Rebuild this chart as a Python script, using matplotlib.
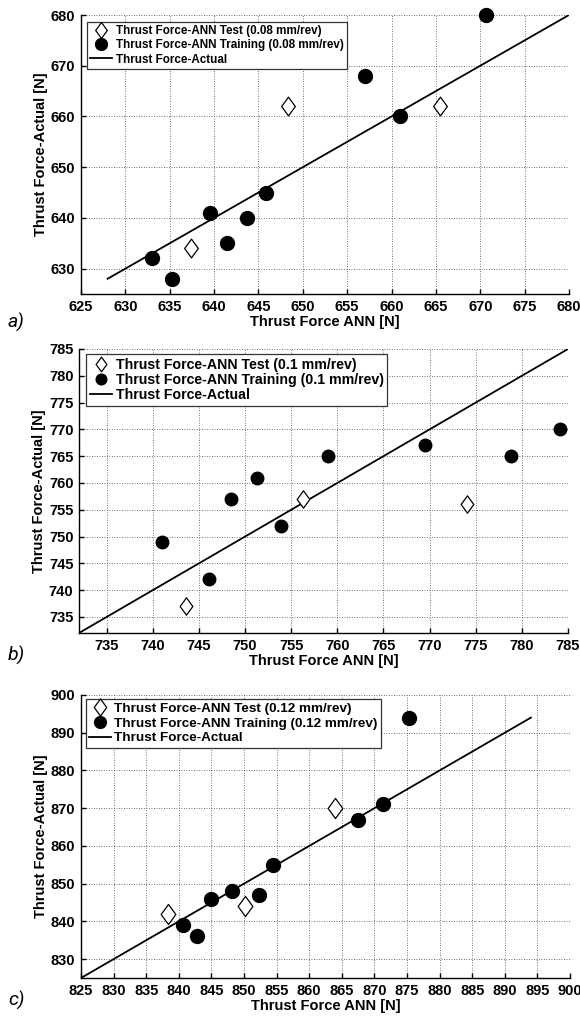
import matplotlib
matplotlib.use("Agg")
import matplotlib.pyplot as plt
from matplotlib.path import Path
import numpy as np

plt.rcParams['font.family'] = ['Liberation Sans', 'DejaVu Sans']
plt.rcParams['font.weight'] = 'bold'

# ---------------- data ----------------
# Panel a (0.08 mm/rev)
a_train_x = [633.0, 635.2, 639.5, 641.5, 643.7, 645.9, 657.0, 661.0, 670.6]
a_train_y = [632, 628, 641, 635, 640, 645, 668, 660, 680]
a_test_x = [637.4, 648.3, 665.5]
a_test_y = [634, 662, 662]
a_line = [628, 680]

# Panel b (0.1 mm/rev)
b_train_x = [741.0, 746.1, 748.5, 751.3, 753.9, 759.0, 769.5, 778.8, 784.1]
b_train_y = [749, 742, 757, 761, 752, 765, 767, 765, 770]
b_test_x = [743.6, 756.3, 774.0]
b_test_y = [737, 757, 756]
b_line = [732, 785]

# Panel c (0.12 mm/rev)
c_train_x = [840.7, 842.8, 844.9, 848.1, 852.3, 854.4, 867.5, 871.3, 875.3]
c_train_y = [839, 836, 846, 848, 847, 855, 867, 871, 894]
c_test_x = [838.3, 850.2, 863.9]
c_test_y = [842, 844, 870]
c_line = [825, 894]

feeds = ['0.08', '0.1', '0.12']
panel_labels = ['a)', 'b)', 'c)']
x_label = 'Thrust Force ANN [N]'
y_label = 'Thrust Force-Actual [N]'

W, H = 580, 1017
fig = plt.figure(figsize=(W / 100, H / 100), dpi=100)

diamond = Path([(0, 1), (0.73, 0), (0, -1), (-0.73, 0), (0, 1)],
               [Path.MOVETO, Path.LINETO, Path.LINETO, Path.LINETO, Path.CLOSEPOLY])


def px_axes(l, t, r, b):
    return fig.add_axes([l / W, 1 - b / H, (r - l) / W, (b - t) / H])


panels = [
    dict(box=(81, 15, 569, 294), tx=a_train_x, ty=a_train_y, sx=a_test_x, sy=a_test_y,
         line=a_line, xlim=(625, 680), ylim=(625, 680),
         xt=np.arange(625, 681, 5), yt=np.arange(630, 681, 10),
         lfs=8.4, leg=(87, 22), ms=10, dms=13.5, ls=0.2, hl=1.9, htp=0.35),
    dict(box=(79, 349, 568, 633), tx=b_train_x, ty=b_train_y, sx=b_test_x, sy=b_test_y,
         line=b_line, xlim=(732, 785), ylim=(732, 785),
         xt=np.arange(735, 786, 5), yt=np.arange(735, 786, 5),
         lfs=10.2, leg=(86, 354), ms=9, dms=12.5, ls=0.1, hl=1.6, htp=0.25),
    dict(box=(81, 695, 570, 978), tx=c_train_x, ty=c_train_y, sx=c_test_x, sy=c_test_y,
         line=c_line, xlim=(825, 900), ylim=(825, 900),
         xt=np.arange(825, 901, 5), yt=np.arange(830, 901, 10),
         lfs=9.7, leg=(86, 699), ms=10, dms=14.5, ls=0.17, hl=1.6, htp=0.26),
]

label_pos = [(8, 322), (8, 655), (8, 1000)]

for i, p in enumerate(panels):
    ax = px_axes(*p['box'])
    ax.set_xlim(*p['xlim'])
    ax.set_ylim(*p['ylim'])
    ax.set_xticks(p['xt'], labels=[str(v) for v in p['xt']], fontweight='bold', fontsize=10.5)
    ax.set_yticks(p['yt'], labels=[str(v) for v in p['yt']], fontweight='bold', fontsize=10.5)
    ax.grid(True, linestyle=(0, (1, 2)), color='#444444', linewidth=0.6)
    ax.set_axisbelow(True)
    for s in ['top', 'right']:
        ax.spines[s].set_visible(False)
    for s in ['left', 'bottom']:
        ax.spines[s].set_linewidth(1.0)
        ax.spines[s].set_color('black')
    ax.tick_params(direction='in', length=3.5, width=1.0, pad=4)

    ln, = ax.plot(p['line'], p['line'], color='black', linewidth=1.3,
                  label='Thrust Force-Actual', zorder=2)
    sc_s, = ax.plot(p['sx'], p['sy'], linestyle='none', marker=diamond,
                    markersize=p['dms'], markerfacecolor='white', markeredgecolor='black',
                    markeredgewidth=0.9, clip_on=False, zorder=3,
                    label='Thrust Force-ANN Test (%s mm/rev)' % feeds[i])
    sc_t, = ax.plot(p['tx'], p['ty'], linestyle='none', marker='o',
                    markersize=p['ms'], markerfacecolor='black', markeredgecolor='black',
                    clip_on=False, zorder=3,
                    label='Thrust Force-ANN Training (%s mm/rev)' % feeds[i])

    ax.set_xlabel(x_label, fontsize=10.5, fontweight='bold', labelpad=1)
    ax.set_ylabel(y_label, fontsize=10.5, fontweight='bold', labelpad=2)

    lx, ly = p['leg']
    leg = ax.legend(handles=[sc_s, sc_t, ln], loc='upper left',
                    bbox_to_anchor=(lx / W, 1 - ly / H), bbox_transform=fig.transFigure,
                    borderaxespad=0, fancybox=False, framealpha=1, edgecolor='#333333',
                    prop={'family': 'Liberation Sans', 'weight': 'bold', 'size': p['lfs']},
                    labelspacing=p['ls'], handlelength=p['hl'], handletextpad=p['htp'],
                    borderpad=0.25, markerscale=0.85)
    leg.get_frame().set_linewidth(0.9)

    fx, fy = label_pos[i]
    fig.text(fx / W, 1 - fy / H, panel_labels[i], fontsize=14, style='italic',
             fontweight='normal', family=['Roboto', 'DejaVu Sans'], ha='left', va='center')

fig.savefig('out.png', dpi=100)
